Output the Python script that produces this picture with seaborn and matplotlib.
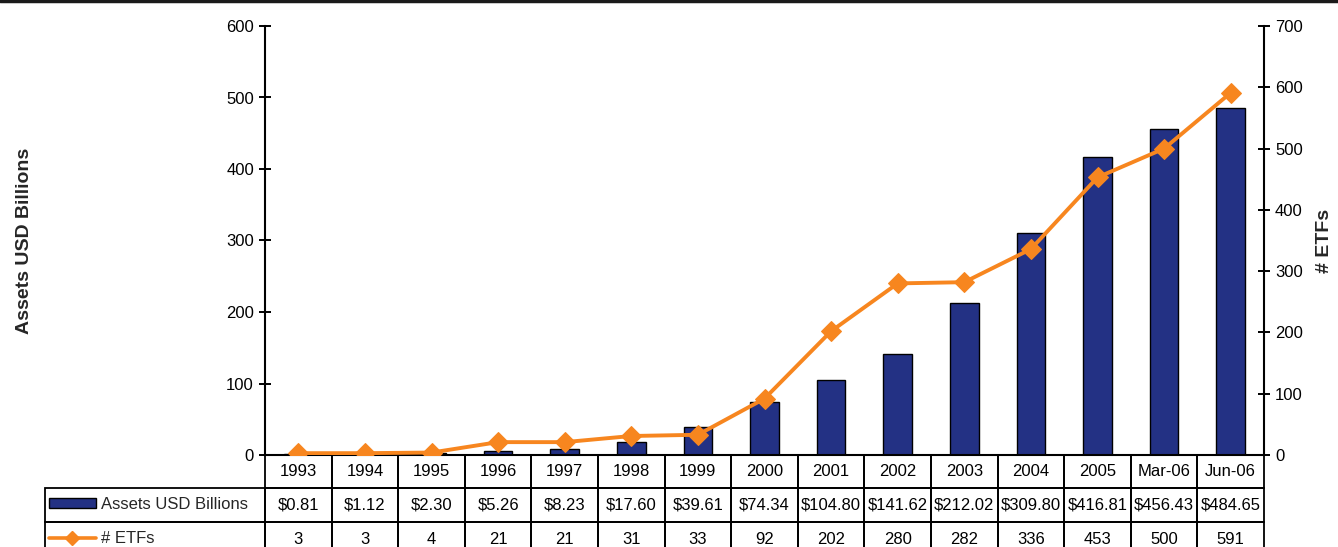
import numpy as np
import pandas as pd
import matplotlib
matplotlib.use("Agg")
import matplotlib.pyplot as plt
import seaborn as sns
from matplotlib.table import Table
from matplotlib.patches import Patch
from matplotlib.lines import Line2D

# ---- data ----
periods = ["1993", "1994", "1995", "1996", "1997", "1998", "1999", "2000",
           "2001", "2002", "2003", "2004", "2005", "Mar-06", "Jun-06"]
assets = [0.81, 1.12, 2.30, 5.26, 8.23, 17.60, 39.61, 74.34,
          104.80, 141.62, 212.02, 309.80, 416.81, 456.43, 484.65]
etfs = [3, 3, 4, 21, 21, 31, 33, 92, 202, 280, 282, 336, 453, 500, 591]
left_ticks = [0, 100, 200, 300, 400, 500, 600]
right_ticks = [0, 100, 200, 300, 400, 500, 600, 700]
assets_label = "Assets USD Billions"
etfs_label = "# ETFs"

BAR = "#233184"
ORANGE = "#f7861f"

sns.set_theme(style="white")
plt.rcParams["font.family"] = ["Liberation Sans", "DejaVu Sans"]

df = pd.DataFrame({"period": periods, "assets": assets, "etfs": etfs})

W, H = 1338, 547
fig = plt.figure(figsize=(W / 100, H / 100), dpi=100)
fig.patch.set_facecolor("white")
ax = fig.add_axes([265 / W, 1 - 455 / H, 999 / W, 429 / H])

sns.barplot(data=df, x="period", y="assets", color=BAR, width=0.43,
            edgecolor="black", linewidth=1.0, saturation=1, ax=ax, zorder=2)
ax.set_xlim(-0.5, len(periods) - 0.5)
ax.set_ylim(0, 600)
ax.set_yticks(left_ticks)
ax.set_xticks([])
ax.set_xlabel("")
ax.set_ylabel(assets_label, fontsize=14, fontweight="bold", labelpad=0)
ax.yaxis.set_label_coords(-232 / 999, 0.5)

ax2 = ax.twinx()
sns.lineplot(x=np.arange(len(periods)), y=df["etfs"], color=ORANGE,
             linewidth=2.8, marker="D", markersize=10, markeredgecolor=ORANGE,
             ax=ax2, zorder=3)
ax2.set_ylim(0, 700)
ax2.set_yticks(right_ticks)
ax2.set_ylabel(etfs_label, fontsize=14, fontweight="bold", rotation=90, labelpad=0)
ax2.yaxis.set_label_coords(1 + 52 / 999, 0.5)
ax2.set_xlim(-0.5, len(periods) - 0.5)

for a in (ax, ax2):
    for s in a.spines.values():
        s.set_color("black")
        s.set_linewidth(1.5)
    a.spines["top"].set_visible(False)
    a.tick_params(axis="y", direction="inout", length=8, width=1.4,
                  labelsize=12, colors="black", pad=4)
    a.grid(False)
ax.spines["right"].set_visible(False)
ax2.spines["left"].set_visible(False)
ax2.spines["bottom"].set_visible(False)
ax.set_facecolor("none")

# ---- data table ----
lab_w = 220 / 66.6
h0, h1 = 33, 34
total_h = h0 + 2 * h1
tb = Table(ax, bbox=[-220 / 999, -total_h / 429, 1 + 220 / 999, total_h / 429])
fs = 12
c = tb.add_cell(0, 0, width=lab_w, height=h0, text="", loc="center")
c.visible_edges = ""
for j, p in enumerate(periods):
    cell = tb.add_cell(0, j + 1, width=1, height=h0, text=p, loc="center")
    cell.visible_edges = "BRL"
row_texts = [[f"${v:.2f}" for v in assets], [str(v) for v in etfs]]
for i, row in enumerate(row_texts):
    tb.add_cell(i + 1, 0, width=lab_w, height=h1, text="", loc="left")
    for j, t in enumerate(row):
        tb.add_cell(i + 1, j + 1, width=1, height=h1, text=t, loc="center")
tb.auto_set_font_size(False)
tb.set_fontsize(fs)
for cell in tb.get_celld().values():
    cell.set_edgecolor("black")
    cell.set_linewidth(1.3)
    cell.set_facecolor("none")
    cell.get_text().set_color("black")
tb.set_clip_on(False)
ax.add_table(tb)

# legend keys sitting in the table's row-label column
handles = [Patch(facecolor=BAR, edgecolor="black", linewidth=1.0, label=assets_label),
           Line2D([], [], color=ORANGE, lw=2.6, marker="D", markersize=7, label=etfs_label)]
fig.legend(handles=handles, loc="upper left", bbox_to_anchor=(49 / W, 1 - 497 / H),
           frameon=False, fontsize=fs, handlelength=2.8, handleheight=0.6,
           handletextpad=0.35, labelspacing=1.15, borderpad=0, borderaxespad=0,
           numpoints=1)

fig.add_artist(Line2D([0, 1], [1 - 1 / H, 1 - 1 / H], transform=fig.transFigure,
                      color="#1a1a1a", lw=2.5))

fig.savefig("out.png", dpi=100, facecolor="white")
